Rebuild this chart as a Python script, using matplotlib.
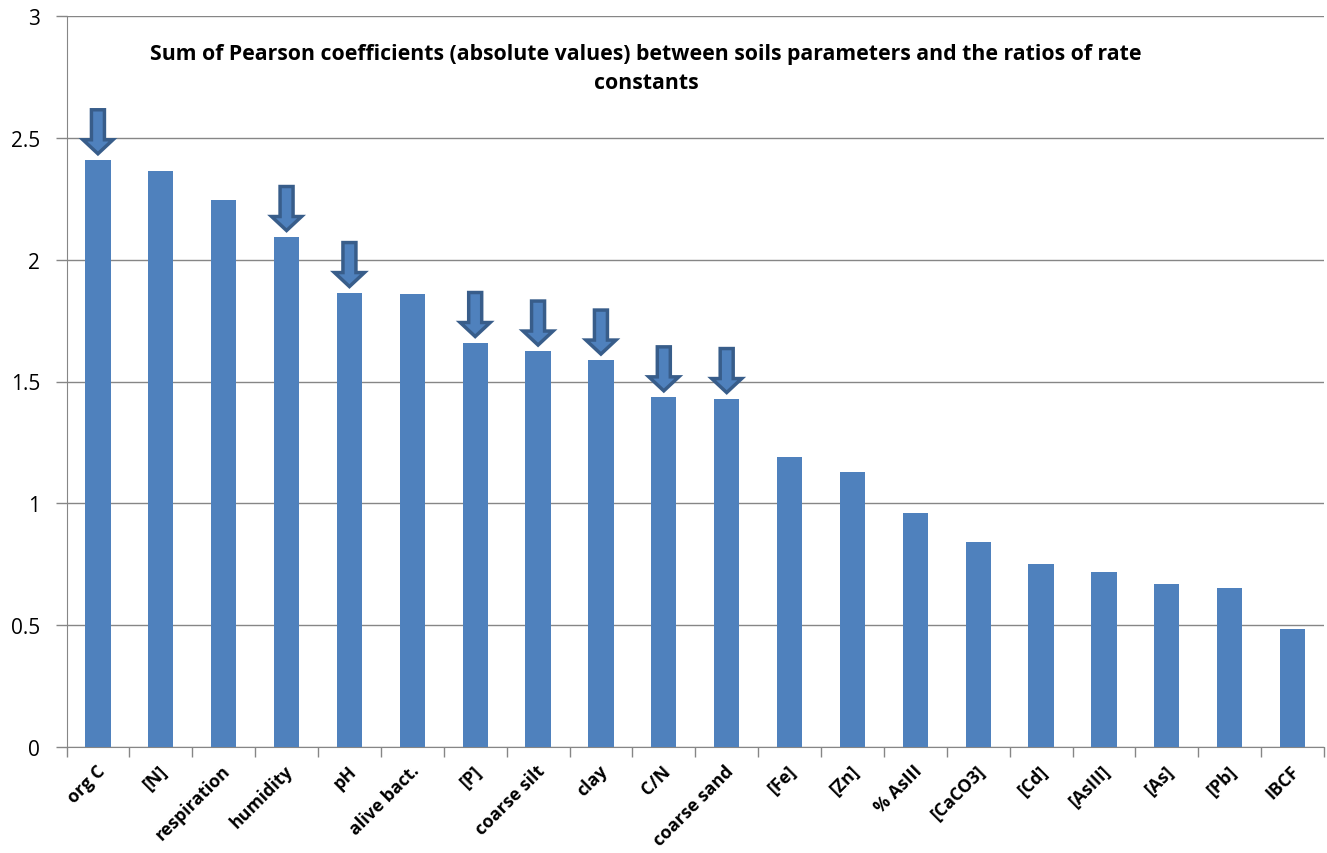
import matplotlib
matplotlib.use("Agg")
import matplotlib.pyplot as plt
from matplotlib.patches import Polygon
import numpy as np

categories = ["org C", "[N]", "respiration", "humidity", "pH", "alive bact.", "[P]",
              "coarse silt", "clay", "C/N", "coarse sand", "[Fe]", "[Zn]", "% AsIII",
              "[CaCO3]", "[Cd]", "[AsIII]", "[As]", "[Pb]", "IBCF"]
values = [2.41, 2.365, 2.245, 2.095, 1.865, 1.86, 1.66, 1.625, 1.588, 1.437, 1.43,
          1.19, 1.128, 0.962, 0.842, 0.752, 0.719, 0.67, 0.652, 0.485]
arrow_categories = ["org C", "humidity", "pH", "[P]", "coarse silt", "clay", "C/N", "coarse sand"]
y_ticks = [0, 0.5, 1, 1.5, 2, 2.5, 3]
y_tick_labels = ["0", "0.5", "1", "1.5", "2", "2.5", "3"]
title = "Sum of Pearson coefficients (absolute values) between soils parameters and the ratios of rate\nconstants"

BAR = "#4F81BD"
EDGE = "#385D8A"
GRID = "#868686"

fig = plt.figure(figsize=(13.27, 8.54), dpi=100)
ax = fig.add_axes([66.5 / 1327, 1 - 748 / 854, (1324 - 66.5) / 1327, (748 - 17) / 854])

x = np.arange(len(categories))
ax.bar(x, values, width=0.4, color=BAR, zorder=3)

ax.set_xlim(-0.5, len(categories) - 0.5)
ax.set_ylim(0, 3)
ax.set_yticks(y_ticks)
ax.set_yticklabels(y_tick_labels, fontsize=15, family=["Open Sans", "DejaVu Sans"])
ax.yaxis.grid(True, color=GRID, linewidth=1, zorder=0)
ax.tick_params(axis="y", length=8, color=GRID, width=1, pad=11)

ax.set_xticks(np.arange(len(categories) + 1) - 0.5, minor=False)
ax.set_xticklabels([])
ax.tick_params(axis="x", length=7, color=GRID, width=1)
for i, c in enumerate(categories):
    ax.annotate(c, xy=(i, 0), xycoords=("data", "axes fraction"),
                xytext=(3, -15), textcoords="offset points",
                rotation=45, rotation_mode="anchor", ha="right", va="center",
                fontsize=12.8, fontweight="bold", family=["Open Sans", "DejaVu Sans"])

for s in ["top", "right"]:
    ax.spines[s].set_visible(False)
ax.spines["left"].set_color(GRID)
ax.spines["bottom"].set_color(GRID)

# arrows
px_x = (1324 - 66.5) / len(categories)  # pixels per category unit
px_y = (748 - 17) / 3.0
shaft_hw = 6.5 / px_x
head_hw = 15 / px_x
head_len = 14 / px_y
total = 44 / px_y
gap = 6 / px_y
for c in arrow_categories:
    i = categories.index(c)
    tip = values[i] + gap
    top = tip + total
    neck = tip + head_len
    pts = [(i - shaft_hw, top), (i + shaft_hw, top), (i + shaft_hw, neck), (i + head_hw, neck),
           (i, tip), (i - head_hw, neck), (i - shaft_hw, neck)]
    ax.add_patch(Polygon(pts, closed=True, facecolor=BAR, edgecolor=EDGE, linewidth=2.5,
                         joinstyle="miter", zorder=4, clip_on=False))

fig.text(646 / 1327, 1 - 69 / 854, title, ha="center", va="center", fontsize=15.3,
         fontweight="bold", family=["Open Sans", "DejaVu Sans"],
         linespacing=1.45)

fig.savefig("out.png", dpi=100)
